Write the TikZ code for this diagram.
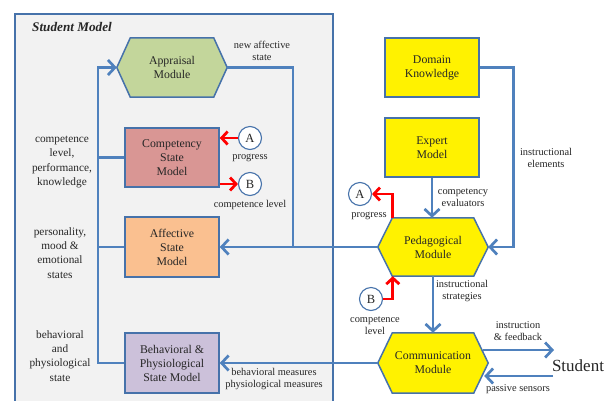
\documentclass[tikz,border=0pt]{standalone}
\usepackage{fontspec}
\setmainfont{Liberation Serif}
\usetikzlibrary{arrows.meta}
\pgfdeclarelayer{bg}
\pgfdeclarelayer{mid}
\pgfsetlayers{bg,mid,main}
\definecolor{lineblue}{HTML}{4F81BD}
\definecolor{edgeblue}{HTML}{4672AA}
\definecolor{smgray}{HTML}{F2F2F2}
\definecolor{compred}{HTML}{D99694}
\definecolor{affor}{HTML}{FAC090}
\definecolor{behlav}{HTML}{CCC1DA}
\definecolor{appgreen}{HTML}{C3D69B}
\definecolor{txt}{HTML}{262626}
\definecolor{arrred}{HTML}{FF0000}
\newcommand\hexfill[3]{%
  \begin{pgfonlayer}{mid}
  \draw[draw=edgeblue,line width=1.5pt,fill=#2]
    ([xshift=#3]#1.north west) -- ([xshift=-#3]#1.north east) -- (#1.east)
    -- ([xshift=-#3]#1.south east) -- ([xshift=#3]#1.south west) -- (#1.west) -- cycle;
  \end{pgfonlayer}}
\begin{document}
\begin{tikzpicture}[x=1pt,y=-1pt,
  box/.style={draw=edgeblue,line width=1.5pt,minimum width=94pt,minimum height=59pt,
    align=center,text=txt,font=\fontsize{11.8}{14}\selectfont,inner sep=1pt},
  hexnode/.style={minimum width=110pt,minimum height=59pt,align=center,text=txt,
    font=\fontsize{11.8}{14}\selectfont,inner sep=1pt},
  circ/.style={circle,draw=edgeblue,line width=1.1pt,fill=white,minimum size=23pt,
    inner sep=0pt,text=txt,font=\fontsize{12.5}{14}\selectfont},
  conn/.style={draw=lineblue,line width=2.7pt},
  barb/.style={-{Straight Barb[length=7pt,width=15pt]}},
  redarr/.style={draw=arrred,line width=2.8pt,-{Straight Barb[length=6pt,width=13pt]}},
  lab/.style={align=center,text=txt,font=\fontsize{10.4}{12}\selectfont,inner sep=0pt},
  sidelab/.style={align=center,text=txt,font=\fontsize{11.3}{14.2}\selectfont,inner sep=0pt}]
\useasboundingbox (0,0) rectangle (610,400);
\begin{pgfonlayer}{bg}
\fill[white] (0,0) rectangle (610,400);
\fill[smgray,draw=edgeblue,line width=1.5pt] (15,14) rectangle (333,410);
\end{pgfonlayer}
\coordinate (sm) at (15,14);
\node[font=\fontsize{13.2}{15}\selectfont\bfseries\itshape,text=txt,anchor=west,inner sep=0pt] (smtitle) at (32,27) {Student Model};

% nodes
\node[hexnode] (app) at (172,67.5) {Appraisal\\Module};
\hexfill{app}{appgreen}{13.5pt}
\node[box,fill=compred] (comp) at (172,157.5) {Competency\\State\\Model};
\node[box,fill=affor,minimum height=60pt] (aff) at (172,247) {Affective\\State\\Model};
\node[box,fill=behlav,minimum height=60pt] (beh) at (172,363) {Behavioral \&\\Physiological\\State Model};

\node[box,fill=yellow] (dom) at (432,67.5) {Domain\\Knowledge};
\node[box,fill=yellow] (exp) at (432,147.5) {Expert\\Model};
\node[hexnode,minimum width=110pt,minimum height=58pt] (ped) at (433,247) {Pedagogical\\Module};
\hexfill{ped}{yellow}{14.5pt}
\node[hexnode,minimum width=110pt,minimum height=60pt] (comm) at (433,363) {Communication\\Module};
\hexfill{comm}{yellow}{14.5pt}

\node[circ] (a1) at (250,138) {A};
\node[circ] (b1) at (250,184) {B};
\node[circ] (a2) at (360,194) {A};
\node[circ] (b2) at (371,299) {B};

\node[text=txt,font=\fontsize{17}{18}\selectfont,inner sep=0pt] (stu) at (578,366) {Student};

% coordinates for free ends
\coordinate (spine) at (98,0);
\coordinate (j1) at (293,0);
\coordinate (s1) at (554,350);
\coordinate (s2) at (553,376);

% blue connectors
\draw[conn,barb] (beh.west) -- (beh.west -| spine) |- (app.west);
\draw[conn] (comp.west) -- (comp.west -| spine);
\draw[conn] (aff.west) -- (aff.west -| spine);
\draw[conn] (app.east) -| (j1 |- aff.east);
\draw[conn,barb] (ped.west) -- (aff.east);
\draw[conn,barb] (dom.east) -- ++(34,0) |- (ped.east);
\draw[conn,barb] (exp.south) -- (exp.south |- ped.north);
\draw[conn,barb] (ped.south) -- (comm.north);
\draw[conn,barb] (comm.west) -- (beh.east);
\draw[conn,barb] ([xshift=-5pt]comm.east |- s1) -- (s1);
\draw[conn,barb] (s2) -- ([xshift=-4pt]comm.east |- s2);

% red connectors
\draw[redarr] (a1.west) -- (a1.west -| comp.east);
\draw[redarr] (b1.west -| comp.east) -- (b1.west);
\draw[redarr] ([xshift=15pt]ped.north west) |- (a2.east);
\draw[redarr] (b2.east) -| ([xshift=15pt]ped.south west);

% labels
\node[lab] (l1) at (262,51) {new affective\\state};
\node[lab] (l2) at (250,158) {progress};
\node[lab] (l3) at (250,205) {competence level};
\node[lab] (l4) at (369,216) {progress};
\node[lab] (l5) at (375,326) {competence\\level};
\node[lab] (l6) at (463,198) {competency\\evaluators};
\node[lab] (l7) at (546,158) {instructional\\elements};
\node[lab] (l8) at (462,291) {instructional\\strategies};
\node[lab] (l9) at (518,331) {instruction\\\& feedback};
\node[lab] (l10) at (518,389) {passive sensors};
\node[lab] (l11) at (274,379) {behavioral measures\\physiological measures};
\node[sidelab] (l12) at (62,162) {competence\\level,\\performance,\\knowledge};
\node[sidelab] (l13) at (60,253) {personality,\\mood \&\\emotional\\states};
\node[sidelab] (l14) at (60,356) {behavioral\\and\\physiological\\state};
\end{tikzpicture}
\end{document}
